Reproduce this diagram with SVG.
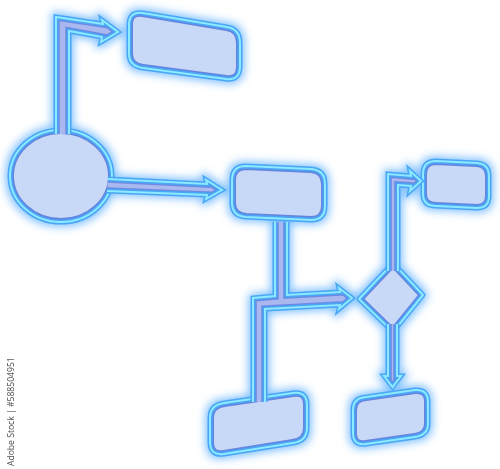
<svg xmlns="http://www.w3.org/2000/svg" xmlns:xlink="http://www.w3.org/1999/xlink" width="500" height="469" viewBox="0 0 500 469">
<style>
.nf{fill:#c7d9f6;stroke:none}
.cf{fill:#a9b8ee;stroke:none}
.dk{fill:none;stroke:#6584e0;stroke-width:8}
.cdk{fill:none;stroke:#6f88e2;stroke-width:7.5}
.bd{fill:none;stroke:#48a6f4;stroke-width:5;stroke-linejoin:round}
.cbd{fill:none;stroke:#48a6f4;stroke-width:5;stroke-linejoin:miter;stroke-miterlimit:6}
.hi{fill:none;stroke:#8ee8ff;stroke-width:2;stroke-linejoin:round}
.chi{fill:none;stroke:#8ee8ff;stroke-width:2;stroke-linejoin:miter;stroke-miterlimit:6}
.wm{font-family:"Open Sans","Liberation Sans",sans-serif;font-size:8.6px;fill:#4a4a4a}
</style>
<defs>
<filter id="glow" x="-10%" y="-10%" width="120%" height="120%">
<feMorphology in="SourceAlpha" operator="dilate" radius="2" result="d"/>
<feGaussianBlur in="d" stdDeviation="4" result="b"/>
<feFlood flood-color="#4aa6ff" flood-opacity="0.7"/>
<feComposite in2="b" operator="in" result="g"/>
<feMerge><feMergeNode in="g"/><feMergeNode in="SourceGraphic"/></feMerge>
</filter>
<path id="pA" d="M129,25 Q129,11 143,13 L227,27 Q240,29 240,43 L240,66 Q240,81 226,79 L143,68 Q129,66 129,54 Z"/>
<ellipse id="pC" cx="61" cy="176" rx="51" ry="46"/>
<path id="pB" d="M232,180 Q232,166 246,166 L311,169 Q325,170 325,184 L325,206 Q325,220 311,220 L246,217 Q232,216 232,203 Z"/>
<path id="pE" d="M393,263 L423,295 L393,332 L359,299 Z"/>
<path id="pF" d="M423,174 Q423,161 436,161 L477,163 Q489,164 489,176 L489,196 Q489,208 477,208 L436,206 Q423,206 423,194 Z"/>
<path id="pD" d="M210,418 Q210,405 224,403 L293,393 Q307,391 307,405 L307,428 Q307,441 293,443 L224,454 Q210,456 210,442 Z"/>
<path id="pG" d="M353,410 Q353,398 366,397 L415,390 Q428,389 428,402 L428,424 Q428,435 415,437 L366,444 Q353,446 353,433 Z"/>
<path id="k1" d="M56,134 L56,17 L103,24 L102,20 L118,32 L101,42 L102,37 L69,31 L69,134"/>
<path id="k2" d="M108,179 L207,184 L206,180 L222,190 L206,199 L207,195 L107,191"/>
<path id="k3s" d="M275,222 L275,296 L253,298 L253,402 M287,222 L287,295 L340,292 L339,288 L352,298 L339,309 L340,305 L265,309 L265,402"/>
<path id="k3f" d="M275,222 L287,222 L287,295 L340,292 L339,288 L352,298 L339,309 L340,305 L265,309 L265,402 L253,402 L253,298 L275,296 Z"/>
<path id="k4" d="M388,271 L388,174 L411,176 L410,171 L421,181 L410,191 L411,186 L398,185 L398,271"/>
<path id="k5" d="M388,324 L388,376 L384,376 L392.5,387 L401,376 L397,376 L397,324"/>
<clipPath id="cA"><use xlink:href="#pA"/></clipPath>
<clipPath id="cC"><use xlink:href="#pC"/></clipPath>
<clipPath id="cB"><use xlink:href="#pB"/></clipPath>
<clipPath id="cE"><use xlink:href="#pE"/></clipPath>
<clipPath id="cF"><use xlink:href="#pF"/></clipPath>
<clipPath id="cD"><use xlink:href="#pD"/></clipPath>
<clipPath id="cG"><use xlink:href="#pG"/></clipPath>
<clipPath id="c1"><use xlink:href="#k1"/></clipPath>
<clipPath id="c2"><use xlink:href="#k2"/></clipPath>
<clipPath id="c3"><use xlink:href="#k3f"/></clipPath>
<clipPath id="c4"><use xlink:href="#k4"/></clipPath>
<clipPath id="c5"><use xlink:href="#k5"/></clipPath>
</defs>
<rect width="500" height="469" fill="#ffffff"/>
<g filter="url(#glow)">
<g id="node-top-box"><use xlink:href="#pA" class="nf"/><use xlink:href="#pA" class="dk" clip-path="url(#cA)"/><use xlink:href="#pA" class="bd"/><use xlink:href="#pA" class="hi"/></g>
<g id="node-circle"><use xlink:href="#pC" class="nf"/><use xlink:href="#pC" class="dk" clip-path="url(#cC)"/><use xlink:href="#pC" class="bd"/><use xlink:href="#pC" class="hi"/></g>
<g id="node-middle-box"><use xlink:href="#pB" class="nf"/><use xlink:href="#pB" class="dk" clip-path="url(#cB)"/><use xlink:href="#pB" class="bd"/><use xlink:href="#pB" class="hi"/></g>
<g id="node-diamond"><use xlink:href="#pE" class="nf"/><use xlink:href="#pE" class="dk" clip-path="url(#cE)"/><use xlink:href="#pE" class="bd"/><use xlink:href="#pE" class="hi"/></g>
<g id="node-right-box"><use xlink:href="#pF" class="nf"/><use xlink:href="#pF" class="dk" clip-path="url(#cF)"/><use xlink:href="#pF" class="bd"/><use xlink:href="#pF" class="hi"/></g>
<g id="node-bottom-left-box"><use xlink:href="#pD" class="nf"/><use xlink:href="#pD" class="dk" clip-path="url(#cD)"/><use xlink:href="#pD" class="bd"/><use xlink:href="#pD" class="hi"/></g>
<g id="node-bottom-right-box"><use xlink:href="#pG" class="nf"/><use xlink:href="#pG" class="dk" clip-path="url(#cG)"/><use xlink:href="#pG" class="bd"/><use xlink:href="#pG" class="hi"/></g>
<g id="connectors">
<g id="conn-circle-top"><use xlink:href="#k1" class="cf"/><use xlink:href="#k1" class="cdk" clip-path="url(#c1)"/><use xlink:href="#k1" class="cbd"/><use xlink:href="#k1" class="chi"/></g>
<g id="conn-circle-middle"><use xlink:href="#k2" class="cf"/><use xlink:href="#k2" class="cdk" clip-path="url(#c2)"/><use xlink:href="#k2" class="cbd"/><use xlink:href="#k2" class="chi"/></g>
<g id="conn-middle-branch"><use xlink:href="#k3f" class="cf"/><use xlink:href="#k3s" class="cdk" clip-path="url(#c3)"/><use xlink:href="#k3s" class="cbd"/><use xlink:href="#k3s" class="chi"/></g>
<g id="conn-diamond-right"><use xlink:href="#k4" class="cf"/><use xlink:href="#k4" class="cdk" clip-path="url(#c4)"/><use xlink:href="#k4" class="cbd"/><use xlink:href="#k4" class="chi"/></g>
<g id="conn-diamond-bottom"><use xlink:href="#k5" class="cf"/><use xlink:href="#k5" class="cdk" clip-path="url(#c5)"/><use xlink:href="#k5" class="cbd"/><use xlink:href="#k5" class="chi"/></g>
</g>
</g>
<text class="wm" transform="translate(14,466) rotate(-90)">Adobe Stock | #588504951</text>
</svg>
